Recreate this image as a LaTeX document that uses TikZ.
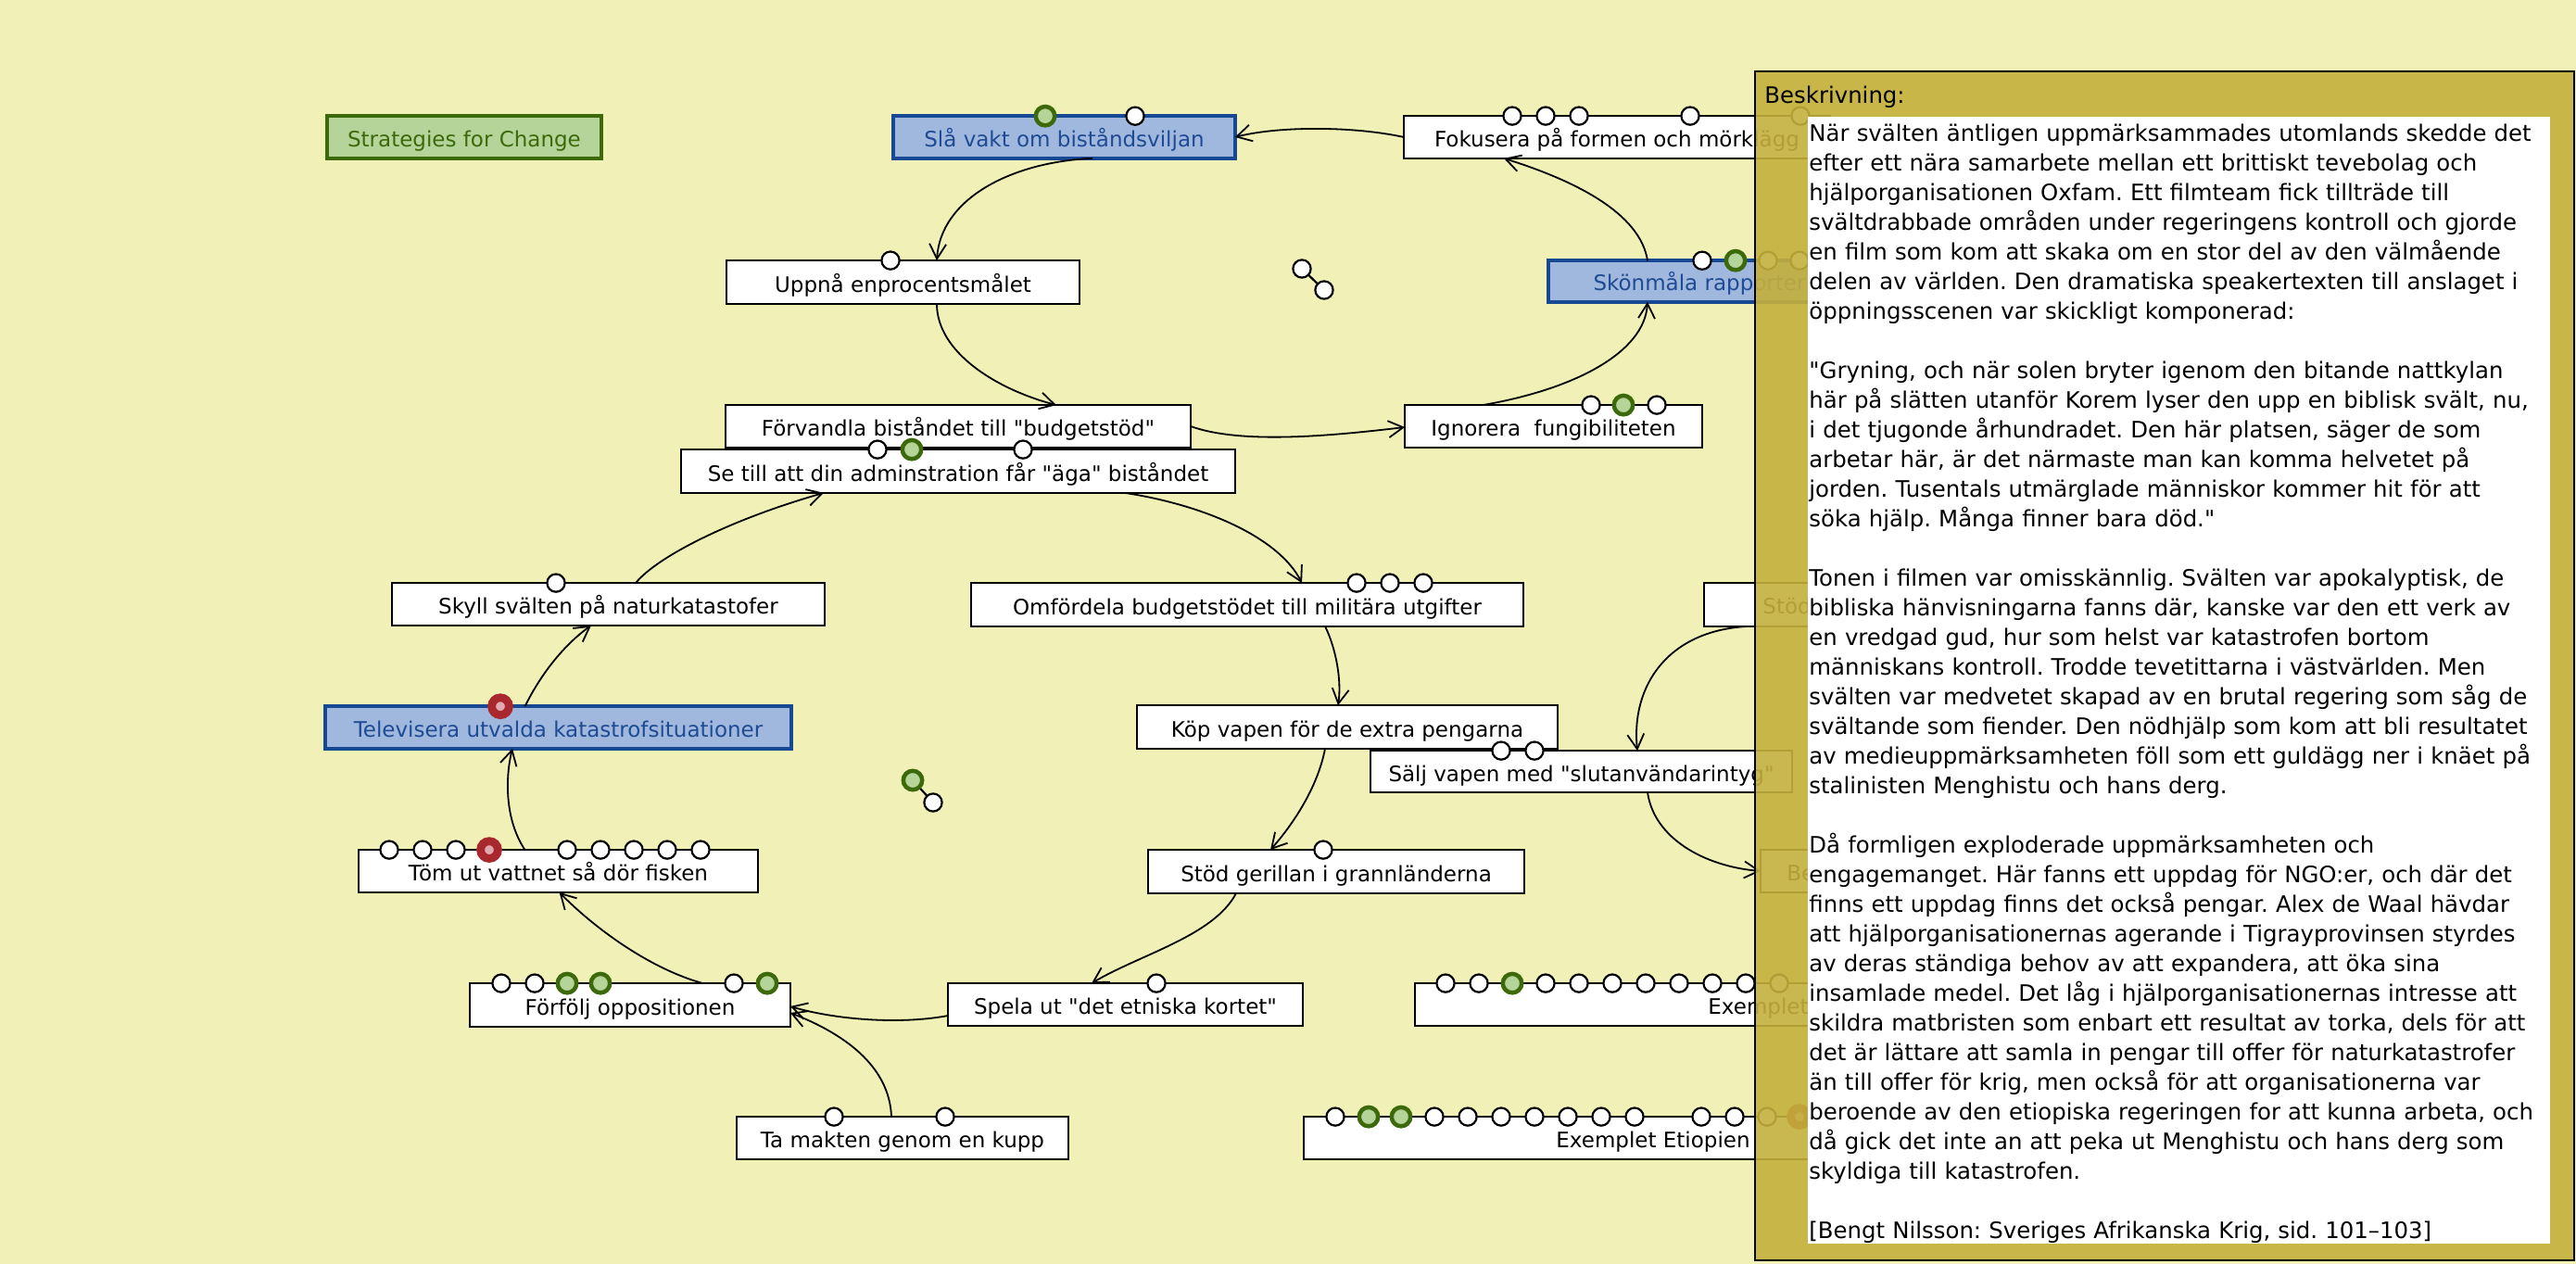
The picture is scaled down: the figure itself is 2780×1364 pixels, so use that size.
\documentclass[tikz,border=0pt]{standalone}
\usepackage{fontspec}
\newfontfamily\dvs{DejaVu Sans}
\usetikzlibrary{arrows.meta}
\definecolor{bgc}{HTML}{F1F0B7}
\definecolor{gold}{HTML}{C4B03C}
\definecolor{bluef}{HTML}{A0B8DE}
\definecolor{blueb}{HTML}{174894}
\definecolor{bluet}{HTML}{1E4B92}
\definecolor{greenf}{HTML}{B4D49A}
\definecolor{greenb}{HTML}{3C6A0A}
\definecolor{redb}{HTML}{A8282E}
\definecolor{pinkf}{HTML}{E2AAB0}
\newcommand\mynfont{\dvs\frenchspacing\fontsize{11.5}{14}\selectfont}
\newcommand\mypfont{\dvs\frenchspacing\fontsize{12.2}{16}\selectfont}
\tikzset{
  nbox/.style={draw=black, fill=white, line width=1.1pt, inner sep=0pt, outer sep=0pt,
    text height=12pt, text depth=1.5pt, font=\mynfont},
  bbox/.style={nbox, draw=blueb, fill=bluef, line width=2.2pt, text=bluet},
  gbox/.style={nbox, draw=greenb, fill=greenf, line width=2.2pt, text=greenb},
  wp/.style={circle, draw=black, fill=white, line width=1.1pt, minimum size=9.6pt, inner sep=0pt},
  gp/.style={circle, draw=greenb, fill=greenf, line width=2.25pt, minimum size=10.2pt, inner sep=0pt},
  rp/.style={circle, draw=redb, fill=pinkf, line width=4.4pt, minimum size=9.4pt, inner sep=0pt},
  arr/.style={line width=0.9pt, -{Straight Barb[length=8pt,width=9pt]}},
  ghosttxt/.style={anchor=base west, font=\mynfont, inner sep=0pt},
}
\begin{document}
\begin{tikzpicture}[x=0.5pt, y=-0.5pt]
\fill[bgc] (0,0) rectangle (2780,1364);
\useasboundingbox (0,0) rectangle (2780,1364);

% boxes
\node[gbox, minimum width=147.8pt, minimum height=22.8pt] (strat) at (501,148) {Strategies for Change};
\node[bbox, minimum width=184.3pt, minimum height=22.8pt] (sla) at (1148.5,148) {Slå vakt om biståndsviljan};
\node[nbox, minimum width=190.4pt, minimum height=23.4pt] (upp) at (974.5,304.5) {Uppnå enprocentsmålet};
\node[nbox, minimum width=229.9pt, minimum height=22.9pt] (fok) at (1745,148) {Fokusera på formen och mörklägg};
\node[bbox, minimum width=162.8pt, minimum height=22.3pt] (skon) at (1834,303.5) {Skönmåla rapporter};
\node[nbox, minimum width=160.4pt, minimum height=22.9pt] (ign) at (1676.5,460) {Ignorera\ \ fungibiliteten};
\node[nbox, minimum width=250.9pt, minimum height=22.9pt] (forv) at (1034,460) {Förvandla biståndet till "budgetstöd"};
\node[nbox, minimum width=298.9pt, minimum height=23.4pt] (setill) at (1034,508.5) {Se till att din adminstration får "äga" biståndet};
\node[nbox, minimum width=233.4pt, minimum height=22.9pt] (skyll) at (656.5,652) {Skyll svälten på naturkatastofer};
\node[nbox, minimum width=297.9pt, minimum height=23.4pt] (omf) at (1346,652.5) {Omfördela budgetstödet till militära utgifter};
\node[nbox, minimum width=179.9pt, minimum height=23.4pt] (stod) at (2019,652.5) {};
\node[ghosttxt] (stodt) at (1902,662.5) {Stöd};
\node[nbox, minimum width=226.9pt, minimum height=23.4pt] (kop) at (1454,784.5) {Köp vapen för de extra pengarna};
\node[nbox, minimum width=227.4pt, minimum height=22.4pt] (salj) at (1706.5,832.5) {Sälj vapen med "slutanvändarintyg"};
\node[nbox, minimum width=149.4pt, minimum height=22.9pt] (be) at (2049.5,940) {};
\node[ghosttxt] (bet) at (1928,950.5) {Be};
\node[nbox, minimum width=202.9pt, minimum height=23.4pt] (stodg) at (1442,940.5) {Stöd gerillan i grannländerna};
\node[nbox, minimum width=191.4pt, minimum height=22.9pt] (spela) at (1214.5,1084) {Spela ut "det etniska kortet"};
\node[nbox, minimum width=385.9pt, minimum height=22.9pt] (ex1) at (1913,1084) {};
\node[ghosttxt] (ex1t) at (1843,1094.5) {Exemplet};
\node[nbox, minimum width=376.9pt, minimum height=22.9pt] (ex2) at (1784,1228) {Exemplet Etiopien};
\node[nbox, minimum width=215.4pt, minimum height=22.9pt] (tom) at (602.5,940) {Töm ut vattnet så dör fisken};
\node[bbox, minimum width=251.3pt, minimum height=22.8pt] (telev) at (602.5,785) {Televisera utvalda katastrofsituationer};
\node[nbox, minimum width=172.9pt, minimum height=23.4pt] (forf) at (680,1084.5) {Förfölj oppositionen};
\node[nbox, minimum width=178.9pt, minimum height=22.9pt] (ta) at (974,1228) {Ta makten genom en kupp};

% ports
\node[gp] (slag1) at (1128,0 |- sla.north) {};
\node[wp] (slaw1) at (1225,0 |- sla.north) {};
\node[wp] (uppw1) at (961,0 |- upp.north) {};
\foreach \x [count=\i] in {1632,1668,1704,1824,1943} \node[wp] (fokw\i) at (\x,0 |- fok.north) {};
\node[wp] (skonw1) at (1837,0 |- skon.north) {};
\node[gp] (skong1) at (1873,0 |- skon.north) {};
\node[wp] (skonw2) at (1908,0 |- skon.north) {};
\node[wp] (skonw3) at (1942,0 |- skon.north) {};
\node[wp] (ignw1) at (1717,0 |- ign.north) {};
\node[gp] (igng1) at (1752,0 |- ign.north) {};
\node[wp] (ignw2) at (1788,0 |- ign.north) {};
\node[wp] (setw1) at (947,0 |- setill.north) {};
\node[gp] (setg1) at (984,0 |- setill.north) {};
\node[wp] (setw2) at (1104,0 |- setill.north) {};
\node[wp] (skyllw1) at (600,0 |- skyll.north) {};
\foreach \x [count=\i] in {1464,1500,1536} \node[wp] (omfw\i) at (\x,0 |- omf.north) {};
\foreach \x [count=\i] in {1620,1656} \node[wp] (saljw\i) at (\x,0 |- salj.north) {};
\node[wp] (stodgw1) at (1428,0 |- stodg.north) {};
\node[wp] (spelaw1) at (1248,0 |- spela.north) {};
\foreach \x [count=\i] in {1560,1596,1668,1704,1740,1776,1812,1848,1884,1920} \node[wp] (exaw\i) at (\x,0 |- ex1.north) {};
\node[gp] (exag1) at (1632,0 |- ex1.north) {};
\foreach \x [count=\i] in {1441,1548,1584,1620,1656,1692,1728,1764,1836,1872,1907} \node[wp] (exbw\i) at (\x,0 |- ex2.north) {};
\node[gp] (exbg1) at (1477,0 |- ex2.north) {};
\node[gp] (exbg2) at (1512,0 |- ex2.north) {};
\node[rp] (exbr1) at (1942,0 |- ex2.north) {};
\foreach \x [count=\i] in {420,456,492,612,648,684,720,756} \node[wp] (tomw\i) at (\x,0 |- tom.north) {};
\node[rp] (tomr1) at (528,0 |- tom.north) {};
\node[rp] (televr1) at (540,0 |- telev.north) {};
\node[wp] (forfw1) at (541,0 |- forf.north) {};
\node[wp] (forfw2) at (577,0 |- forf.north) {};
\node[gp] (forfg1) at (612,0 |- forf.north) {};
\node[gp] (forfg2) at (648,0 |- forf.north) {};
\node[wp] (forfw3) at (792,0 |- forf.north) {};
\node[gp] (forfg3) at (828,0 |- forf.north) {};
\node[wp] (taw1) at (900,0 |- ta.north) {};
\node[wp] (taw2) at (1020,0 |- ta.north) {};

% free pairs
\draw[line width=1.1pt] (1405,290) -- (1429,313);
\node[wp] (fa) at (1405,290) {};
\node[wp] (fb) at (1429,313) {};
\draw[line width=1.1pt] (985,842) -- (1007,866);
\node[gp] (ga) at (985,842) {};
\node[wp] (gb) at (1007,866) {};

% connectors
\draw[arr] (fok.west) .. controls (1460,136) and (1380,136) .. (sla.east);
\draw[arr] (1179,0 |- sla.south) .. controls (1090,175) and (1015,215) .. (1011,0 |- upp.north);
\draw[arr] (1011,0 |- upp.south) .. controls (1011,380) and (1075,420) .. (1140,0 |- forv.north);
\draw[arr] (forv.east) .. controls (1340,480) and (1440,470) .. (ign.west |- 0,461);
\draw[arr] (1600,0 |- ign.north) .. controls (1700,420) and (1775,380) .. (1778,0 |- skon.south);
\draw[arr] (1778,0 |- skon.north) .. controls (1770,230) and (1700,195) .. (1623,0 |- fok.south);
\draw[arr] (1214,0 |- setill.south) .. controls (1300,545) and (1380,580) .. (1405,0 |- omf.north);
\draw[arr] (686,0 |- skyll.north) .. controls (710,600) and (790,560) .. (889,0 |- setill.south);
\draw[arr] (566.5,0 |- telev.north) .. controls (585,725) and (610,695) .. (638,0 |- skyll.south);
\draw[arr] (566.5,0 |- tom.north) .. controls (545,885) and (545,840) .. (553,0 |- telev.south);
\draw[arr] (758.5,0 |- forf.north) .. controls (700,1045) and (640,1000) .. (603.6,0 |- tom.south);
\draw[arr] (spela.west |- 0,1096) .. controls (970,1106) and (900,1100) .. (forf.east |- 0,1086);
\draw[arr] (962,0 |- ta.north) .. controls (960,1150) and (910,1115) .. (forf.east |- 0,1093);
\draw[arr] (1430,0 |- omf.south) .. controls (1442,700) and (1448,735) .. (1444,0 |- kop.north);
\draw[arr] (1430,0 |- kop.south) .. controls (1422,850) and (1395,890) .. (1371,0 |- stodg.north);
\draw[arr] (1334,0 |- stodg.south) .. controls (1310,1010) and (1230,1030) .. (1178,0 |- spela.north);
\draw[arr] (1887,0 |- stod.south) .. controls (1800,680) and (1760,740) .. (1767,0 |- salj.north);
\draw[arr] (1778,0 |- salj.south) .. controls (1785,905) and (1840,935) .. (be.west |- 0,940);

% description panel
\fill[gold, fill opacity=0.9] (1894,77) rectangle (2778,1360);
\draw[black, line width=1pt] (1894,77) rectangle (2778,1360);
\fill[white] (1951,126) rectangle (2752,1342);
\node[anchor=base west, font=\mypfont, inner sep=0pt] (beskr) at (1904,111.7) {Beskrivning:};
\node[anchor=north west, font=\mypfont, inner sep=0pt, text width=500pt, align=left] (desc) at (1952,129.3) {\noindent\strut När svälten äntligen uppmärksammades utomlands skedde det\\
efter ett nära samarbete mellan ett brittiskt tevebolag och\\
hjälporganisationen Oxfam. Ett filmteam fick tillträde till\\
svältdrabbade områden under regeringens kontroll och gjorde\\
en film som kom att skaka om en stor del av den välmående\\
delen av världen. Den dramatiska speakertexten till anslaget i\\
öppningsscenen var skickligt komponerad:\\[16pt]
"Gryning, och när solen bryter igenom den bitande nattkylan\\
här på slätten utanför Korem lyser den upp en biblisk svält, nu,\\
i det tjugonde århundradet. Den här platsen, säger de som\\
arbetar här, är det närmaste man kan komma helvetet på\\
jorden. Tusentals utmärglade människor kommer hit för att\\
söka hjälp. Många finner bara död."\\[16pt]
Tonen i filmen var omisskännlig. Svälten var apokalyptisk, de\\
bibliska hänvisningarna fanns där, kanske var den ett verk av\\
en vredgad gud, hur som helst var katastrofen bortom\\
människans kontroll. Trodde tevetittarna i västvärlden. Men\\
svälten var medvetet skapad av en brutal regering som såg de\\
svältande som fiender. Den nödhjälp som kom att bli resultatet\\
av medieuppmärksamheten föll som ett guldägg ner i knäet på\\
stalinisten Menghistu och hans derg.\\[16pt]
Då formligen exploderade uppmärksamheten och\\
engagemanget. Här fanns ett uppdag för NGO:er, och där det\\
finns ett uppdag finns det också pengar. Alex de Waal hävdar\\
att hjälporganisationernas agerande i Tigrayprovinsen styrdes\\
av deras ständiga behov av att expandera, att öka sina\\
insamlade medel. Det låg i hjälporganisationernas intresse att\\
skildra matbristen som enbart ett resultat av torka, dels för att\\
det är lättare att samla in pengar till offer för naturkatastrofer\\
än till offer för krig, men också för att organisationerna var\\
beroende av den etiopiska regeringen for att kunna arbeta, och\\
då gick det inte an att peka ut Menghistu och hans derg som\\
skyldiga till katastrofen.\\[16pt]
{}[Bengt Nilsson: Sveriges Afrikanska Krig, sid. 101–103]};
\end{tikzpicture}
\end{document}
